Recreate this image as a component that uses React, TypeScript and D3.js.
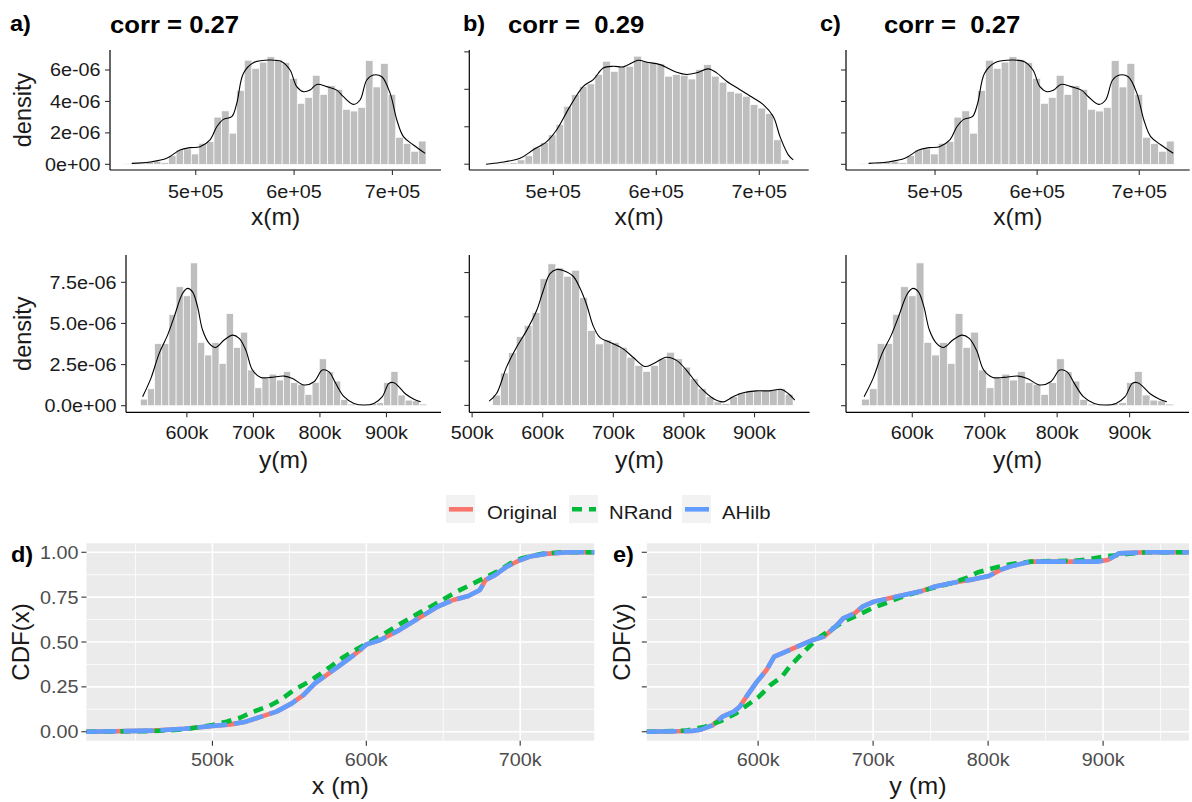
import React from 'react';
import * as d3 from 'd3';

const W = 1192;
const H = 802;
const FONT = '"Liberation Sans", Arial, Helvetica, sans-serif';
const SX = 1.07;

// ---------------- DATA ----------------
const corrTitles = ['corr = 0.27', 'corr =  0.29', 'corr =  0.27'];
const topTags = ['a)', 'b)', 'c)'];
const cdfTags = ['d)', 'e)'];

// Histograms (density in units of 1e-6), bins given by first centre + bin width
const histXOrigFirst = 430000;
const histXOrigWidth = 7700;
const histXOrig = [0.05, 0.05, 0.1, 0.17, 0.2, 0.1, 0.55, 0.92, 0.98, 0.66, 1.34, 1.45, 3.0, 3.4, 1.98, 4.7, 6.62, 6.1, 6.5, 6.84, 6.67, 6.46, 5.47, 3.88, 4.26, 5.66, 4.45, 5.0, 4.77, 3.5, 3.39, 3.62, 6.59, 4.92, 6.42, 4.45, 1.72, 1.33, 0.83, 1.48];
const histXAHilb = [...histXOrig];

const histXNRandFirst = 446100;
const histXNRandWidth = 7540;
const histXNRand = [0.04, 0.06, 0.09, 0.23, 0.45, 0.91, 1.16, 1.57, 2.11, 3.09, 3.71, 4.16, 4.29, 4.79, 5.5, 4.96, 5.2, 5.23, 5.77, 5.5, 5.41, 5.36, 4.7, 4.79, 4.75, 4.55, 5.05, 5.32, 4.7, 4.38, 3.89, 3.8, 3.63, 3.18, 3.0, 2.7, 1.3, 0.23];

const histYOrigFirst = 535400;
const histYOrigWidth = 10760;
const histYOrig = [0.4, 1.03, 3.77, 3.77, 5.55, 7.23, 6.68, 8.68, 3.85, 3.08, 3.85, 2.57, 5.6, 3.54, 4.47, 2.17, 1.09, 1.66, 1.92, 1.56, 2.08, 1.4, 1.3, 0.69, 1.4, 2.85, 2.06, 1.5, 0.38, 0.1, 0.04, 0.04, 0.14, 0.18, 1.4, 2.08, 0.65, 0.34, 0.3, 0.1];
const histYAHilb = [...histYOrig];

const histYNRandFirst = 534600;
const histYNRandWidth = 11200;
const histYNRand = [0.58, 1.83, 2.97, 3.88, 4.5, 5.24, 7.15, 7.99, 7.76, 7.29, 7.63, 6.08, 4.22, 3.47, 3.69, 3.56, 3.28, 2.72, 2.26, 1.92, 2.26, 2.63, 3.0, 2.63, 2.16, 1.51, 0.95, 0.49, 0.2, 0.11, 0.49, 0.71, 0.82, 0.82, 0.82, 0.9, 0.95, 0.63];

// Kernel density curves [position (m), density (1e-6)]
const densXOrig: [number, number][] = [[434900, 0.06], [453500, 0.15], [470500, 0.38], [484000, 0.91], [494200, 1.06], [504400, 1.12], [514500, 1.55], [521400, 2.39], [528100, 2.86], [536600, 3.03], [541700, 3.88], [548400, 5.78], [558600, 6.46], [575600, 6.63], [587500, 6.53], [595900, 6.0], [602700, 4.94], [609500, 4.62], [616300, 4.72], [623100, 5.08], [633300, 4.94], [643400, 4.72], [650200, 4.3], [660300, 3.81], [667100, 4.09], [673900, 5.36], [680700, 5.68], [689200, 5.57], [697700, 4.51], [704500, 2.82], [711200, 1.76], [721400, 1.23], [733300, 0.7]];
const densXAHilb: [number, number][] = densXOrig.map((d) => [d[0], d[1]]);

const densXNRand: [number, number][] = [[434700, 0.0], [448300, 0.09], [467700, 0.32], [480600, 0.77], [493600, 1.21], [503300, 1.84], [516200, 3.09], [529100, 4.16], [538800, 4.52], [548500, 5.14], [558300, 5.23], [568000, 5.2], [582500, 5.55], [590700, 5.45], [603600, 5.32], [619800, 4.91], [629500, 4.79], [639200, 4.88], [650500, 5.09], [658600, 4.88], [668300, 4.43], [681300, 3.98], [694200, 3.54], [703900, 3.18], [713600, 2.55], [720100, 1.48], [728200, 0.5], [733000, 0.23]];

const densYOrig: [number, number][] = [[533500, 0.55], [545900, 1.66], [558400, 3.18], [571000, 4.29], [580900, 5.4], [593500, 6.82], [601000, 7.13], [608500, 6.92], [616100, 6.01], [623600, 4.6], [633500, 3.79], [643500, 3.54], [656000, 3.99], [668600, 4.29], [678600, 4.09], [688600, 3.38], [698600, 2.17], [711100, 1.72], [726100, 1.72], [746100, 1.8], [758700, 1.66], [776100, 1.26], [791100, 1.46], [803700, 2.17], [813700, 2.06], [823700, 1.36], [836200, 0.55], [851200, 0.14], [866200, 0.04], [881200, 0.14], [893800, 0.55], [903700, 1.36], [911300, 1.4], [918800, 1.15], [928800, 0.71], [941300, 0.4], [951400, 0.24]];
const densYAHilb: [number, number][] = densYOrig.map((d) => [d[0], d[1]]);

const densYNRand: [number, number][] = [[524100, 0.24], [534600, 0.67], [548700, 2.16], [562900, 3.28], [577100, 4.22], [591200, 5.34], [600600, 6.46], [610100, 7.43], [619600, 7.67], [628900, 7.61], [643100, 7.29], [652500, 6.64], [662000, 5.71], [671400, 4.5], [680900, 3.84], [695000, 3.56], [713900, 3.19], [728000, 2.72], [744600, 2.2], [756400, 2.35], [775300, 2.72], [789500, 2.54], [803700, 1.98], [822500, 1.04], [841400, 0.39], [855500, 0.2], [869700, 0.49], [883900, 0.71], [902800, 0.82], [921700, 0.82], [938300, 0.9], [947600, 0.67], [957000, 0.3]];

// Empirical CDFs [position (m), cdf]
const cdfXOriginal: [number, number][] = [[418100, 0], [461800, 0.006], [481800, 0.017], [500000, 0.032], [511700, 0.041], [521700, 0.056], [531700, 0.084], [541600, 0.112], [551600, 0.158], [559100, 0.204], [566600, 0.27], [574100, 0.316], [581500, 0.362], [589000, 0.409], [596500, 0.459], [600200, 0.487], [609000, 0.511], [621400, 0.566], [633900, 0.632], [646400, 0.697], [656400, 0.734], [666300, 0.756], [673800, 0.79], [677600, 0.846], [683800, 0.874], [691300, 0.92], [700000, 0.957], [706200, 0.976], [716200, 0.991], [731200, 1], [748100, 1]];
const cdfXNRand: [number, number][] = [[418100, 0], [461800, 0.004], [481800, 0.013], [500000, 0.037], [509200, 0.056], [518000, 0.078], [526700, 0.112], [536700, 0.143], [544100, 0.177], [552900, 0.232], [561600, 0.273], [569100, 0.316], [576600, 0.362], [584000, 0.409], [592800, 0.455], [601500, 0.496], [610200, 0.539], [619000, 0.585], [626400, 0.623], [633900, 0.66], [642600, 0.701], [651400, 0.744], [658900, 0.781], [667600, 0.818], [676300, 0.855], [685000, 0.892], [693800, 0.939], [701200, 0.967], [713700, 0.991], [726200, 1], [748100, 1]];
const cdfXAHilb: [number, number][] = cdfXOriginal.map((d) => [d[0], d[1]]);

const cdfYOriginal: [number, number][] = [[503200, 0], [542300, 0.004], [550700, 0.013], [560700, 0.037], [569000, 0.084], [579000, 0.112], [584000, 0.139], [590700, 0.204], [599000, 0.279], [607300, 0.344], [614000, 0.418], [620700, 0.437], [634000, 0.474], [647300, 0.511], [657300, 0.53], [667300, 0.586], [674000, 0.632], [684000, 0.66], [690700, 0.697], [700700, 0.725], [720700, 0.753], [740700, 0.781], [754000, 0.809], [774000, 0.836], [787300, 0.849], [800700, 0.868], [810700, 0.902], [820700, 0.924], [837300, 0.948], [870700, 0.948], [894000, 0.948], [904000, 0.957], [914000, 0.994], [937300, 1], [974700, 1]];
const cdfYNRand: [number, number][] = [[503200, 0], [537300, 0.006], [554000, 0.028], [567300, 0.059], [580700, 0.102], [590700, 0.149], [600700, 0.195], [610700, 0.26], [620700, 0.307], [627300, 0.362], [635700, 0.418], [645700, 0.483], [654000, 0.53], [664000, 0.571], [674000, 0.613], [687300, 0.651], [699000, 0.688], [710700, 0.716], [724000, 0.749], [737300, 0.775], [754000, 0.805], [767300, 0.827], [780700, 0.855], [790700, 0.887], [804000, 0.911], [820700, 0.935], [837300, 0.948], [877300, 0.954], [887300, 0.961], [900700, 0.976], [920700, 0.991], [937300, 1], [974700, 1]];
const cdfYAHilb: [number, number][] = cdfYOriginal.map((d) => [d[0], d[1]]);

// Ticks
const topXTicks = [500000, 600000, 700000];
const topXLabels = ['5e+05', '6e+05', '7e+05'];
const botXTicks = [500000, 600000, 700000, 800000, 900000];
const botXLabels = ['500k', '600k', '700k', '800k', '900k'];
const yTicksX = [0, 2, 4, 6];
const yLabelsX = ['0e+00', '2e-06', '4e-06', '6e-06'];
const yTicksY = [0, 2.5, 5, 7.5];
const yLabelsY = ['0.0e+00', '2.5e-06', '5.0e-06', '7.5e-06'];
const cdfYTicks = [0, 0.25, 0.5, 0.75, 1];
const cdfYLabels = ['0.00', '0.25', '0.50', '0.75', '1.00'];
const cdfYMinor = [0.125, 0.375, 0.625, 0.875];
const cdfXMajorX = [500000, 600000, 700000];
const cdfXMinorX = [450000, 550000, 650000];
const cdfXMajorY = [600000, 700000, 800000, 900000];
const cdfXMinorY = [550000, 650000, 750000, 850000, 950000];

const legendLabels = ['Original', 'NRand', 'AHilb'];
const seriesColors = ['#F8766D', '#00BA38', '#619CFF'];

// ---------------- HELPERS ----------------
type TxtProps = {
  x: number; y: number; size: number; anchor?: string; weight?: string | number;
  fill?: string; children: React.ReactNode; rotate?: boolean;
};
function Txt({ x, y, size, anchor = 'start', weight = 'normal', fill = '#1a1a1a', children, rotate }: TxtProps) {
  const tf = rotate ? `translate(${x},${y}) rotate(-90)` : `translate(${x},${y}) scale(${SX},1)`;
  return (
    <text transform={tf} fontSize={size} textAnchor={anchor as any} fontWeight={weight}
      fill={fill} fontFamily={FONT} style={{ whiteSpace: 'pre' }}>{children}</text>
  );
}

type HistGeom = {
  x0: number; x1: number; yTop: number; yBot: number;
  xDomain: [number, number]; yDomain: [number, number];
};

function HistPanel(props: {
  g: HistGeom; first: number; width: number; heights: number[]; curve: [number, number][];
  yTicks: number[]; yLabels: string[] | null; xTicks: number[]; xLabels: string[];
  xTitle: string; xTitleY: number; xLabelY: number; yTitleX?: number;
}) {
  const { g } = props;
  const xs = d3.scaleLinear().domain(g.xDomain).range([g.x0, g.x1]);
  const ys = d3.scaleLinear().domain(g.yDomain).range([g.yBot, g.yTop]);
  const line = d3.line<[number, number]>().x((d) => xs(d[0])).y((d) => ys(d[1])).curve(d3.curveCatmullRom);
  const w = props.width;
  return (
    <g>
      {props.heights.map((h, i) => {
        const c = props.first + i * w;
        const xa = xs(c - w / 2);
        const xb = xs(c + w / 2);
        return (
          <rect key={i} x={xa} y={ys(h)} width={xb - xa} height={ys(0) - ys(h)}
            fill="#BEBEBE" stroke="#FFFFFF" strokeWidth={0.7} />
        );
      })}
      <path d={line(props.curve) || ''} fill="none" stroke="#000" strokeWidth={1.1} />
      <line x1={g.x0} x2={g.x0} y1={g.yTop} y2={g.yBot} stroke="#000" strokeWidth={1.2} />
      <line x1={g.x0} x2={g.x1} y1={g.yBot} y2={g.yBot} stroke="#000" strokeWidth={1.2} />
      {props.yTicks.map((t, i) => (
        <g key={'yt' + i}>
          <line x1={g.x0 - 5} x2={g.x0} y1={ys(t)} y2={ys(t)} stroke="#333" strokeWidth={1.1} />
          {props.yLabels && (
            <Txt x={g.x0 - 9.5} y={ys(t) + 6.5} size={18.5} anchor="end">{props.yLabels[i]}</Txt>
          )}
        </g>
      ))}
      {props.xTicks.map((t, i) => {
        if (t < g.xDomain[0] || t > g.xDomain[1]) return null;
        return (
          <g key={'xt' + i}>
            <line x1={xs(t)} x2={xs(t)} y1={g.yBot} y2={g.yBot + 5} stroke="#333" strokeWidth={1.1} />
            <Txt x={xs(t)} y={props.xLabelY} size={18.5} anchor="middle">{props.xLabels[i]}</Txt>
          </g>
        );
      })}
      <Txt x={(g.x0 + g.x1) / 2} y={props.xTitleY} size={23} anchor="middle">{props.xTitle}</Txt>
      {props.yTitleX !== undefined && (
        <Txt x={props.yTitleX} y={(g.yTop + g.yBot) / 2} size={23.5} anchor="middle" rotate>density</Txt>
      )}
    </g>
  );
}

type CdfGeom = { x0: number; x1: number; yTop: number; yBot: number; xDomain: [number, number] };

function CdfPanel(props: {
  g: CdfGeom; series: [number, number][][]; major: number[]; minor: number[];
  xLabels: string[]; showY: boolean; xTitle: string; yTitle: string; yTitleX: number; tag: string; tagX: number;
}) {
  const { g } = props;
  const xs = d3.scaleLinear().domain(g.xDomain).range([g.x0, g.x1]);
  const ys = d3.scaleLinear().domain([-0.05, 1.05]).range([g.yBot, g.yTop]);
  const line = d3.line<[number, number]>().x((d) => xs(d[0])).y((d) => ys(d[1]));
  const dashes = [null, '10 7', '30 7'];
  return (
    <g>
      <rect x={g.x0} y={g.yTop} width={g.x1 - g.x0} height={g.yBot - g.yTop} fill="#EBEBEB" />
      {props.minor.map((t, i) => (
        <line key={'mx' + i} x1={xs(t)} x2={xs(t)} y1={g.yTop} y2={g.yBot} stroke="#fff" strokeWidth={0.8} />
      ))}
      {cdfYMinor.map((t, i) => (
        <line key={'my' + i} x1={g.x0} x2={g.x1} y1={ys(t)} y2={ys(t)} stroke="#fff" strokeWidth={0.8} />
      ))}
      {props.major.map((t, i) => (
        <line key={'Mx' + i} x1={xs(t)} x2={xs(t)} y1={g.yTop} y2={g.yBot} stroke="#fff" strokeWidth={1.6} />
      ))}
      {cdfYTicks.map((t, i) => (
        <line key={'My' + i} x1={g.x0} x2={g.x1} y1={ys(t)} y2={ys(t)} stroke="#fff" strokeWidth={1.6} />
      ))}
      {props.series.map((s, i) => (
        <path key={'s' + i} d={line(s) || ''} fill="none" stroke={seriesColors[i]} strokeWidth={4.6}
          strokeDasharray={dashes[i] || undefined} strokeLinejoin="round" />
      ))}
      {cdfYTicks.map((t, i) => (
        <g key={'yt' + i}>
          <line x1={g.x0 - 5} x2={g.x0} y1={ys(t)} y2={ys(t)} stroke="#333" strokeWidth={1.1} />
          {props.showY && (
            <Txt x={g.x0 - 8} y={ys(t) + 6.5} size={18.5} anchor="end" fill="#4D4D4D">{cdfYLabels[i]}</Txt>
          )}
        </g>
      ))}
      {props.major.map((t, i) => (
        <g key={'xt' + i}>
          <line x1={xs(t)} x2={xs(t)} y1={g.yBot} y2={g.yBot + 5} stroke="#333" strokeWidth={1.1} />
          <Txt x={xs(t)} y={766} size={18.5} anchor="middle" fill="#4D4D4D">{props.xLabels[i]}</Txt>
        </g>
      ))}
      <Txt x={(g.x0 + g.x1) / 2} y={794} size={23.5} anchor="middle">{props.xTitle}</Txt>
      <Txt x={props.yTitleX} y={(g.yTop + g.yBot) / 2} size={24} anchor="middle" rotate>{props.yTitle}</Txt>
      <Txt x={props.tagX} y={562} size={22} weight="bold" fill="#000">{props.tag}</Txt>
    </g>
  );
}

// ---------------- LAYOUT ----------------
const gA: HistGeom = { x0: 110, x1: 441, yTop: 50, yBot: 170, xDomain: [412800, 749400], yDomain: [-0.36, 7.27] };
const gB: HistGeom = { x0: 469.3, x1: 808.7, yTop: 50, yBot: 170, xDomain: [418400, 748000], yDomain: [-0.31, 6.1] };
const gC: HistGeom = { x0: 846, x1: 1189.7, yTop: 50, yBot: 170, xDomain: [412800, 749400], yDomain: [-0.36, 7.27] };
const gD: HistGeom = { x0: 126, x1: 441, yTop: 255, yBot: 412.3, xDomain: [508500, 982000], yDomain: [-0.4, 9.16] };
const gE: HistGeom = { x0: 469.3, x1: 809.6, yTop: 255, yBot: 412.3, xDomain: [496000, 978000], yDomain: [-0.39, 8.49] };
const gF: HistGeom = { x0: 846, x1: 1189, yTop: 255, yBot: 412.3, xDomain: [508500, 982000], yDomain: [-0.4, 9.16] };

const gCdfX: CdfGeom = { x0: 86.4, x1: 594.2, yTop: 543.3, yBot: 740.7, xDomain: [418100, 748100] };
const gCdfY: CdfGeom = { x0: 646.8, x1: 1189, yTop: 543.3, yBot: 740.7, xDomain: [503200, 974700] };

const legendKeyX = [446, 569, 682];
const legendTextX = [487, 609, 722];

export default function App() {
  return (
    <svg width={W} height={H} viewBox={`0 0 ${W} ${H}`}
      style={{ position: 'absolute', left: 0, top: 0, display: 'block' }}>
      <rect x={0} y={0} width={W} height={H} fill="#fff" />

      {/* titles */}
      <Txt x={10} y={31} size={22} weight="bold" fill="#000">{topTags[0]}</Txt>
      <Txt x={110} y={33} size={24} weight="bold" fill="#000">{corrTitles[0]}</Txt>
      <Txt x={463} y={31} size={22} weight="bold" fill="#000">{topTags[1]}</Txt>
      <Txt x={508} y={33} size={24} weight="bold" fill="#000">{corrTitles[1]}</Txt>
      <Txt x={820} y={31} size={22} weight="bold" fill="#000">{topTags[2]}</Txt>
      <Txt x={884} y={33} size={24} weight="bold" fill="#000">{corrTitles[2]}</Txt>

      <HistPanel g={gA} first={histXOrigFirst} width={histXOrigWidth} heights={histXOrig} curve={densXOrig}
        yTicks={yTicksX} yLabels={yLabelsX} xTicks={topXTicks} xLabels={topXLabels}
        xTitle="x(m)" xTitleY={225} xLabelY={198} yTitleX={31} />
      <HistPanel g={gB} first={histXNRandFirst} width={histXNRandWidth} heights={histXNRand} curve={densXNRand}
        yTicks={yTicksX} yLabels={null} xTicks={topXTicks} xLabels={topXLabels}
        xTitle="x(m)" xTitleY={225} xLabelY={198} />
      <HistPanel g={gC} first={histXOrigFirst} width={histXOrigWidth} heights={histXAHilb} curve={densXAHilb}
        yTicks={yTicksX} yLabels={null} xTicks={topXTicks} xLabels={topXLabels}
        xTitle="x(m)" xTitleY={225} xLabelY={198} />

      <HistPanel g={gD} first={histYOrigFirst} width={histYOrigWidth} heights={histYOrig} curve={densYOrig}
        yTicks={yTicksY} yLabels={yLabelsY} xTicks={botXTicks} xLabels={botXLabels}
        xTitle="y(m)" xTitleY={468} xLabelY={439} yTitleX={31} />
      <HistPanel g={gE} first={histYNRandFirst} width={histYNRandWidth} heights={histYNRand} curve={densYNRand}
        yTicks={yTicksY} yLabels={null} xTicks={botXTicks} xLabels={botXLabels}
        xTitle="y(m)" xTitleY={468} xLabelY={439} />
      <HistPanel g={gF} first={histYOrigFirst} width={histYOrigWidth} heights={histYAHilb} curve={densYAHilb}
        yTicks={yTicksY} yLabels={null} xTicks={botXTicks} xLabels={botXLabels}
        xTitle="y(m)" xTitleY={468} xLabelY={439} />

      {/* legend */}
      {legendLabels.map((lab, i) => (
        <g key={'lg' + i}>
          <rect x={legendKeyX[i]} y={495} width={29} height={28} fill="#F2F2F2" />
          <line x1={legendKeyX[i] + 3} x2={legendKeyX[i] + 27} y1={509.3} y2={509.3}
            stroke={seriesColors[i]} strokeWidth={4.6} strokeDasharray={i === 1 ? '10 7' : undefined} />
          <Txt x={legendTextX[i]} y={519} size={19}>{lab}</Txt>
        </g>
      ))}

      <CdfPanel g={gCdfX} series={[cdfXOriginal, cdfXNRand, cdfXAHilb]} major={cdfXMajorX} minor={cdfXMinorX}
        xLabels={['500k', '600k', '700k']} showY={true} xTitle="x (m)" yTitle="CDF(x)" yTitleX={29}
        tag={cdfTags[0]} tagX={11} />
      <CdfPanel g={gCdfY} series={[cdfYOriginal, cdfYNRand, cdfYAHilb]} major={cdfXMajorY} minor={cdfXMinorY}
        xLabels={['600k', '700k', '800k', '900k']} showY={false} xTitle="y (m)" yTitle="CDF(y)" yTitleX={630}
        tag={cdfTags[1]} tagX={613} />
    </svg>
  );
}
